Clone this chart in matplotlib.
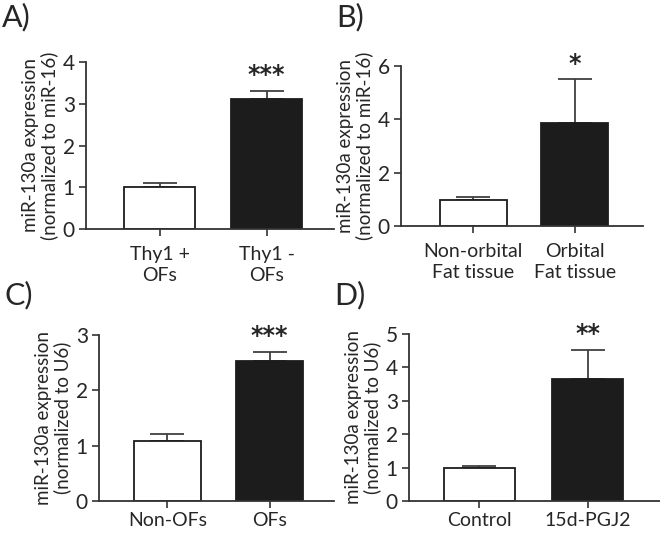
import matplotlib
matplotlib.use("Agg")
import matplotlib.pyplot as plt

plt.rcParams['font.family'] = ['Lato', 'DejaVu Sans']

# Data
cats_a = ["Thy1 +\nOFs", "Thy1 -\nOFs"]
vals_a = [1.0, 3.11]
err_a = [0.10, 0.20]
ylab_a = "miR-130a expression\n(normalized to miR-16)"
sig_a = "***"

cats_b = ["Non-orbital\nFat tissue", "Orbital\nFat tissue"]
vals_b = [0.97, 3.87]
err_b = [0.13, 1.65]
ylab_b = "miR-130a expression\n(normalized to miR-16)"
sig_b = "*"

cats_c = ["Non-OFs", "OFs"]
vals_c = [1.08, 2.53]
err_c = [0.13, 0.17]
ylab_c = "miR-130a expression\n(normalized to U6)"
sig_c = "***"

cats_d = ["Control", "15d-PGJ2"]
vals_d = [1.0, 3.65]
err_d = [0.04, 0.88]
ylab_d = "miR-130a expression\n(normalized to U6)"
sig_d = "**"

W, H = 660, 533
fig = plt.figure(figsize=(6.6, 5.33), dpi=100)

def add_ax(l, r, t, b):
    return fig.add_axes([l / W, 1 - b / H, (r - l) / W, (b - t) / H])

panels = [
    dict(box=(86, 334, 62, 229), xlim=(-0.69, 1.63), ylim=(0, 4), ticks=[0, 1, 2, 3, 4],
         cats=cats_a, vals=vals_a, err=err_a, ylab=ylab_a, sig=sig_a, letter="A)", lpos=(2, 3), xpad=7),
    dict(box=(401, 643, 66, 226), xlim=(-0.71, 1.67), ylim=(0, 6), ticks=[0, 2, 4, 6],
         cats=cats_b, vals=vals_b, err=err_b, ylab=ylab_b, sig=sig_b, letter="B)", lpos=(336, 3), xpad=7),
    dict(box=(99, 334, 335, 501), xlim=(-0.67, 1.63), ylim=(0, 3), ticks=[0, 1, 2, 3],
         cats=cats_c, vals=vals_c, err=err_c, ylab=ylab_c, sig=sig_c, letter="C)", lpos=(4, 281), xpad=3),
    dict(box=(409, 660, 334, 501), xlim=(-0.65, 1.67), ylim=(0, 5), ticks=[0, 1, 2, 3, 4, 5],
         cats=cats_d, vals=vals_d, err=err_d, ylab=ylab_d, sig=sig_d, letter="D)", lpos=(334, 281), xpad=3),
]

txt = "#262626"
for p in panels:
    ax = add_ax(*p["box"])
    x = [0, 1]
    ax.bar(x, p["vals"], width=0.66, color=["white", "#1c1c1c"], edgecolor="#1c1c1c",
           linewidth=1.3, zorder=2)
    for xi, v, e in zip(x, p["vals"], p["err"]):
        ax.errorbar([xi], [v], yerr=[[0], [e]], fmt="none", ecolor="#404040",
                    elinewidth=1.3, capsize=12.5, capthick=1.3, zorder=1)
    top = p["vals"][1] + p["err"][1]
    ax.text(1, top + (p["ylim"][1] - p["ylim"][0]) * 0.02, p["sig"], ha="center", va="bottom",
            fontsize=17, color=txt, fontweight="bold", family="DejaVu Sans")
    ax.set_xlim(*p["xlim"])
    ax.set_ylim(*p["ylim"])
    ax.set_yticks(p["ticks"])
    ax.set_xticks(x)
    ax.set_xticklabels(p["cats"], fontsize=14, color=txt, linespacing=1.3)
    ax.tick_params(axis="y", labelsize=15, labelcolor=txt, length=5, width=1.2, color="#333333", pad=3)
    ax.tick_params(axis="x", length=5, width=1.2, color="#333333", pad=p["xpad"])
    for s in ["top", "right"]:
        ax.spines[s].set_visible(False)
    for s in ["left", "bottom"]:
        ax.spines[s].set_linewidth(1.3)
        ax.spines[s].set_color("#333333")
    ax.set_ylabel(p["ylab"], fontsize=13.5, color=txt, linespacing=1.1, labelpad=3)
    fig.text(p["lpos"][0] / W, 1 - p["lpos"][1] / H, p["letter"], fontsize=22, color=txt,
             ha="left", va="top")

fig.savefig("out.png", dpi=100)
